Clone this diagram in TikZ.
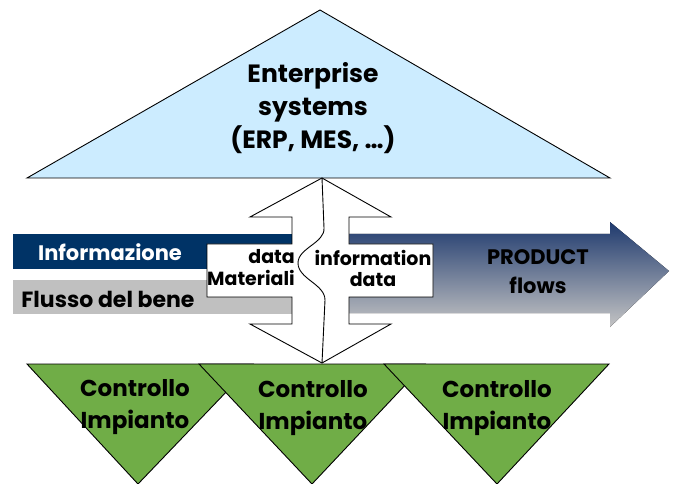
\documentclass[tikz,border=0pt]{standalone}
\usepackage{fontspec}
\setmainfont{Poppins}
\begin{document}
\begin{tikzpicture}[x=1pt,y=-1pt,
  lbl/.style={font=\bfseries, inner sep=0pt, align=center},
  outline/.style={draw=black, line width=0.9pt, line join=miter},
  lvl/.style={outline, fill=ctrlgreen}]
\definecolor{skyblue}{HTML}{CCECFF}
\definecolor{navy}{HTML}{003366}
\definecolor{bandgray}{HTML}{C0C0C0}
\definecolor{ctrlgreen}{HTML}{70AD47}
\definecolor{flowtop}{HTML}{1F3A6E}
\definecolor{flowbot}{HTML}{C4C4C4}
\useasboundingbox (0,0) rectangle (673,484);

% information and goods bands on the left
\fill[navy] (13,234) rectangle (320,269);
\fill[bandgray] (13,280) rectangle (320,314);

% product flow arrow
\fill[top color=flowtop, bottom color=flowbot]
  (330,234) -- (610,234) -- (610,222) -- (669,271) -- (610,327) -- (610,313) -- (330,313) -- cycle;

% enterprise level
\draw[outline, fill=skyblue] (27,178) -- (320,10) -- (610,178) -- cycle;

% plant control level
\draw[lvl] (27,364) -- (253,364) -- (138,484) -- cycle;
\draw[lvl] (199,364) -- (425,364) -- (312,484) -- cycle;
\draw[lvl] (384,364) -- (609,364) -- (497,484) -- cycle;

% two-way exchange arrow with side boxes
\draw[outline, fill=white]
  (322,178) -- (391,217) -- (349,217) -- (349,244) -- (433,244) -- (433,297)
  -- (349,297) -- (349,324) -- (391,324) -- (322,363) -- (250,324) -- (292,324)
  -- (292,297) -- (207,297) -- (207,244) -- (292,244) -- (292,217) -- (250,217) -- cycle;
\draw[line width=0.9pt] (322,178) -- (324,228)
  .. controls (325,243) and (298,248) .. (298,263)
  .. controls (298,279) and (325,284) .. (325,300) -- (322,363);

% labels
\node[lbl, font=\bfseries\fontsize{25}{33}\selectfont] (ent) at (313,108) {Enterprise\\systems\\(ERP, MES, \dots)};
\node[lbl, text=white, font=\bfseries\fontsize{21}{24}\selectfont] (info) at (110,252) {Informazione};
\node[lbl, font=\bfseries\fontsize{22}{24}\selectfont] (goods) at (108,299) {Flusso del bene};
\node[lbl, align=right, anchor=east, font=\bfseries\fontsize{19}{22}\selectfont] (mat) at (295,268) {data\\Materiali};
\node[lbl, font=\bfseries\fontsize{19}{21}\selectfont] (infd) at (373,268) {information\\data};
\node[lbl, font=\bfseries\fontsize{21}{29}\selectfont] (prod) at (538,272) {PRODUCT\\flows};
\node[lbl, font=\bfseries\fontsize{23}{32}\selectfont] (c1) at (135,407) {Controllo\\Impianto};
\node[lbl, font=\bfseries\fontsize{23}{32}\selectfont] (c2) at (313,408) {Controllo\\Impianto};
\node[lbl, font=\bfseries\fontsize{23}{32}\selectfont] (c3) at (497,408) {Controllo\\Impianto};
\end{tikzpicture}
\end{document}
